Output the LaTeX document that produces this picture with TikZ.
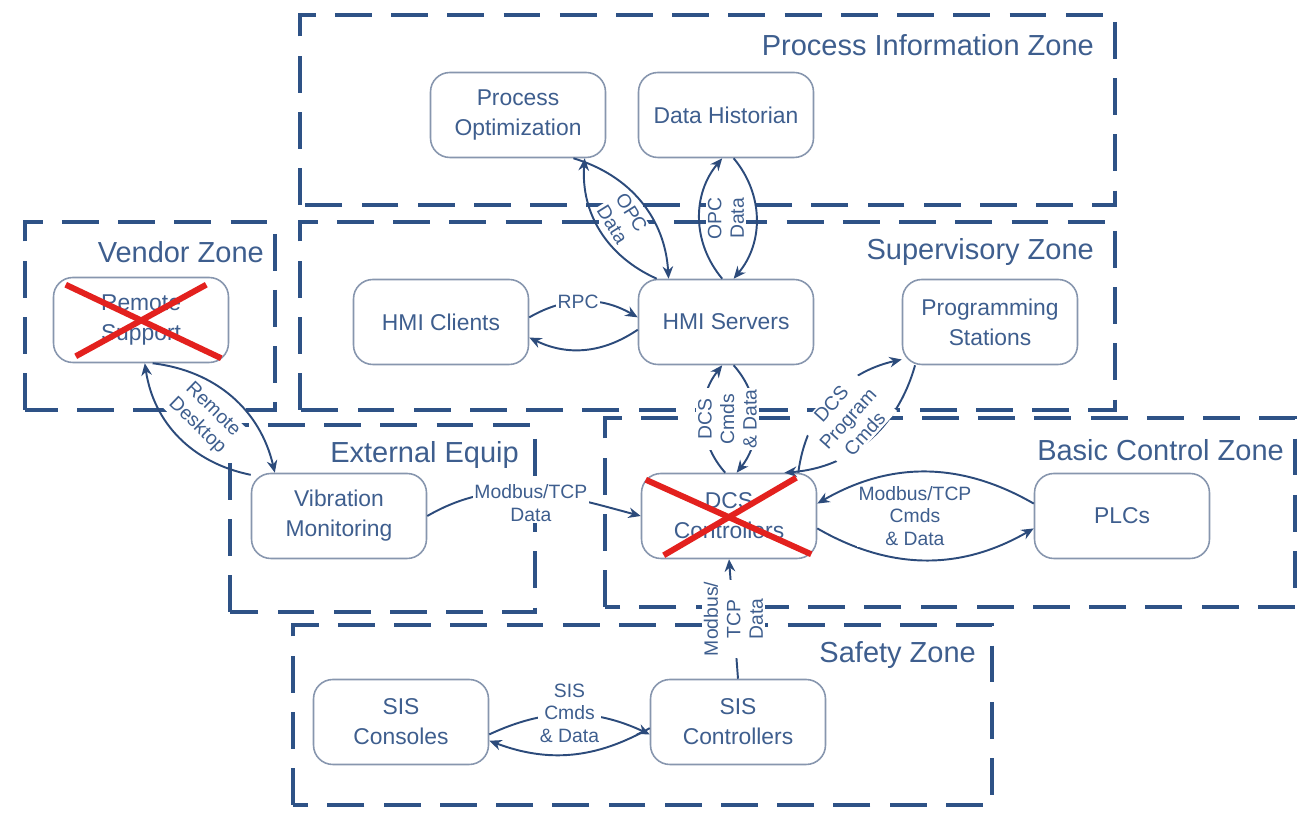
\documentclass[tikz,border=0pt]{standalone}
\usepackage{fontspec}
\setmainfont{Liberation Sans}
\usetikzlibrary{arrows.meta}
\definecolor{zoneblue}{HTML}{2E5286}
\definecolor{textblue}{HTML}{3E5E8E}
\definecolor{boxgray}{HTML}{8796AE}
\definecolor{linkblue}{HTML}{2C4B7B}
\definecolor{crossred}{HTML}{E3211E}

\begin{document}
\begin{tikzpicture}[x=0.02cm, y=0.02cm,
  zone/.style={draw=zoneblue, line width=2.3pt, dash pattern=on 21pt off 11pt},
  zonelabel/.style={text=textblue, anchor=east, font=\fontsize{16.5}{19}\selectfont},
  box/.style={draw=boxgray, line width=0.9pt, rounded corners=11pt, fill=white,
    text=textblue, align=center, minimum width=3.5cm, minimum height=1.7cm,
    font=\fontsize{13}{17}\selectfont},
  link/.style={draw=linkblue, line width=1.1pt, -{Stealth[length=7pt,width=6pt]}},
  lbl/.style={text=textblue, fill=white, align=center, inner sep=1pt,
    font=\fontsize{11}{12.8}\selectfont},
  cross/.style={draw=crossred, line width=3.4pt}]

\useasboundingbox (0,0) rectangle (1297,817);

% zones
\draw[zone] (300,612) rectangle (1115,802);
\draw[zone] (300,407) rectangle (1115,595);
\draw[zone] (25,407) rectangle (275,595);
\draw[zone] (230,205) rectangle (535,392);
\draw[zone] (605,210) rectangle (1295,399);
\draw[zone] (293,12) rectangle (992,192);

\node[zonelabel] (pizname) at (1100,772) {Process Information Zone};
\node[zonelabel] (supname) at (1100,565) {Supervisory Zone};
\node[zonelabel] (venname) at (270,565) {Vendor Zone};
\node[zonelabel] (extname) at (525,362) {External Equip};
\node[zonelabel] (bcname) at (1290,367) {Basic Control Zone};
\node[zonelabel] (safname) at (982,162) {Safety Zone};

% boxes
\node[box] (po) at (518,702) {Process\\Optimization};
\node[box] (dh) at (726,702) {Data Historian};
\node[box] (hmic) at (441,495) {HMI Clients};
\node[box] (hmis) at (726,495) {HMI Servers};
\node[box] (ps) at (990,495) {Programming\\Stations};
\node[box] (rs) at (141,497) {Remote\\Support};
\node[box] (vm) at (339,301) {Vibration\\Monitoring};
\node[box] (dcs) at (729,301) {DCS\\Controllers};
\node[box] (plc) at (1122,301) {PLCs};
\node[box] (siscon) at (401,95) {SIS\\Consoles};
\node[box] (sisctl) at (738,95) {SIS\\Controllers};

% links
\draw[link] (hmis.148) to[bend left=35] (po.-33);
\draw[link] (po.-38) to[bend left=35] (hmis.143);
\path (po.-35) -- node[lbl, rotate=-58] {OPC\\Data} (hmis.145);

\draw[link] (hmis.95) to[bend left=40] (dh.-95);
\draw[link] (dh.-80) to[bend left=40] (hmis.80);
\path (dh.south) -- node[lbl, rotate=90] {OPC\\Data} (hmis.north);

\draw[link] (hmic.3) to[bend left=30] node[lbl, pos=0.45] {RPC} (hmis.177);
\draw[link] (hmis.185) to[bend left=30] (hmic.-10);

\draw[link] (dcs.95) to[bend left=40] (hmis.-95);
\draw[link] (hmis.-80) to[bend left=40] (dcs.80);
\path (hmis.south) -- node[lbl, rotate=90] {DCS\\Cmds\\\& Data} (dcs.north);

\draw[link] (dcs.32) to[bend left=35] (ps.-157);
\draw[link] (ps.-150) to[bend left=35] (dcs.38);
\path (dcs.35) -- node[lbl, rotate=48] {DCS\\Program\\Cmds} (ps.-153);

\draw[link] (plc.172) to[bend right=30] (dcs.8);
\draw[link] (dcs.-8) to[bend right=30] (plc.-172);
\path (dcs.east) -- node[lbl, xshift=-6pt] {Modbus/TCP\\Cmds\\\& Data} (plc.west);

\draw[link] (vm.east) to[out=30, in=165] node[lbl, yshift=-6pt] {Modbus/TCP\\Data} (dcs.west);

\draw[link] (vm.155) to[bend left=35] (rs.-85);
\draw[link] (rs.-75) to[bend left=35] (vm.146);
\path (rs.-80) -- node[lbl, rotate=-44] {Remote\\Desktop} (vm.151);

\draw[link] (sisctl.north) -- node[lbl, rotate=90] {Modbus/\\TCP\\Data} (dcs.south);

\draw[link] (siscon.-8) to[bend left=25] (sisctl.-172);
\draw[link] (sisctl.-176) to[bend left=25] (siscon.-12);
\path (siscon.east) -- node[lbl, yshift=5pt] {SIS\\Cmds\\\& Data} (sisctl.west);

% crossed out
\draw[cross] ([shift={(13,-8)}]rs.north west) -- ([shift={(-8,5)}]rs.south east);
\draw[cross] ([shift={(23,7)}]rs.south west) -- ([shift={(-23,-8)}]rs.north east);
\draw[cross] ([shift={(5,-7)}]dcs.north west) -- ([shift={(-6,5)}]dcs.south east);
\draw[cross] ([shift={(23,4)}]dcs.south west) -- ([shift={(-21,-5)}]dcs.north east);
\end{tikzpicture}
\end{document}
